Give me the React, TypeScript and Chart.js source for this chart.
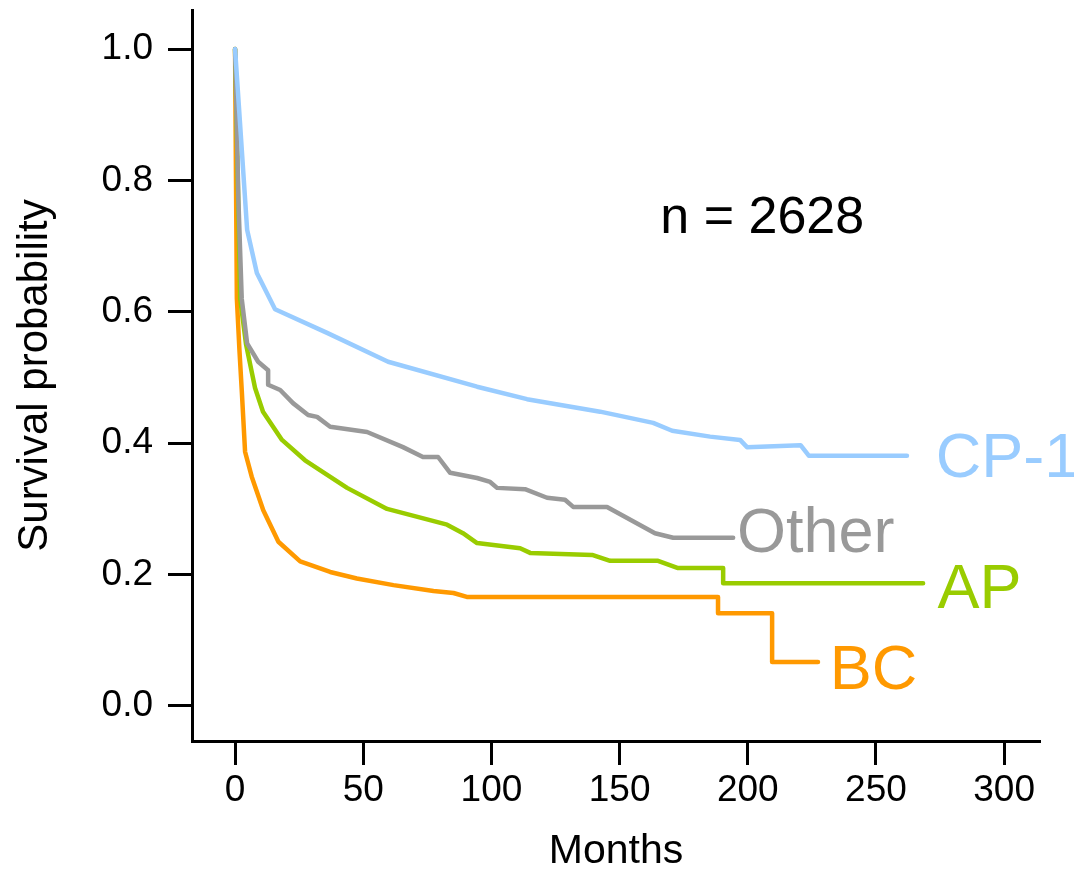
import React, { useEffect, useRef } from 'react';
import { Chart, registerables } from 'chart.js';

Chart.register(...registerables);

// ---- Data ----
const cp1Months = [0, 4.7, 8.5, 15.6, 35.9, 59.7, 94.4, 113.9, 142.4, 163.1, 170.5, 185.3, 197, 199.7, 220.6, 223.8, 262.1];
const cp1Surv = [1.0, 0.725, 0.659, 0.604, 0.568, 0.524, 0.486, 0.467, 0.448, 0.431, 0.419, 0.41, 0.405, 0.394, 0.397, 0.381, 0.381];

const otherMonths = [0, 1.3, 2.6, 4.7, 9, 12.9, 12.9, 17.6, 22.6, 28.5, 32, 37.1, 51.5, 65.5, 73.3, 79.2, 83.9, 94.4, 99.5, 102.2, 113.1, 121.7, 128.7, 131.9, 145.1, 163.8, 170.9, 194.3];
const otherSurv = [1.0, 0.77, 0.62, 0.552, 0.524, 0.511, 0.489, 0.481, 0.461, 0.443, 0.44, 0.425, 0.417, 0.394, 0.379, 0.379, 0.355, 0.347, 0.341, 0.332, 0.33, 0.317, 0.314, 0.303, 0.303, 0.263, 0.256, 0.256];

const apMonths = [0, 2, 4.3, 7.8, 10.9, 18.3, 27.3, 43.7, 59.3, 82.7, 88.9, 94.4, 111.2, 115.1, 139.3, 146.3, 165, 172.8, 190.4, 190.4, 268.4];
const apSurv = [1.0, 0.62, 0.55, 0.484, 0.448, 0.405, 0.374, 0.332, 0.3, 0.276, 0.263, 0.248, 0.24, 0.233, 0.23, 0.221, 0.221, 0.21, 0.21, 0.187, 0.187];

const bcMonths = [0, 0.7, 1.7, 2.6, 3.9, 6.5, 11, 16.9, 25.4, 37.1, 47.5, 61.8, 77.4, 85.2, 90.4, 188.4, 188.4, 209.5, 209.5, 227.4];
const bcSurv = [1.0, 0.62, 0.542, 0.481, 0.387, 0.349, 0.298, 0.25, 0.22, 0.204, 0.194, 0.184, 0.175, 0.172, 0.166, 0.166, 0.141, 0.141, 0.067, 0.067];

const seriesNames = ['CP-1', 'Other', 'AP', 'BC'];
const seriesColors = ['#99CCFF', '#999999', '#99CC00', '#FF9900'];
const seriesMonths = [cp1Months, otherMonths, apMonths, bcMonths];
const seriesSurv = [cp1Surv, otherSurv, apSurv, bcSurv];

// label anchor (left / baseline) in data units
const labelMonths = [273.3, 195.8, 274, 232.0];
const labelSurv = [0.3486, 0.2344, 0.149, 0.0259];

const sampleSizeText = 'n = 2628';
const sampleSizeAt = [165.9, 0.72];

const xTickValues = [0, 50, 100, 150, 200, 250, 300];
const xTickLabels = ['0', '50', '100', '150', '200', '250', '300'];
const yTickValues = [0, 0.2, 0.4, 0.6, 0.8, 1.0];
const yTickLabels = ['0.0', '0.2', '0.4', '0.6', '0.8', '1.0'];

const xTitle = 'Months';
const yTitle = 'Survival probability';

const FONT = '"Liberation Sans", Arial, Helvetica, sans-serif';
const W = 1074;
const H = 870;

const labelsPlugin = {
  id: 'curveLabels',
  afterDatasetsDraw(chart: any) {
    const { ctx, scales } = chart;
    const x = scales.x;
    const y = scales.y;
    ctx.save();
    ctx.textAlign = 'left';
    ctx.textBaseline = 'alphabetic';
    ctx.font = `63px ${FONT}`;
    seriesNames.forEach((name, i) => {
      ctx.fillStyle = seriesColors[i];
      ctx.fillText(name, x.getPixelForValue(labelMonths[i]), y.getPixelForValue(labelSurv[i]));
    });
    ctx.font = `52px ${FONT}`;
    ctx.fillStyle = '#000000';
    ctx.fillText(sampleSizeText, x.getPixelForValue(sampleSizeAt[0]), y.getPixelForValue(sampleSizeAt[1]));
    ctx.restore();
  },
};

export default function App() {
  const ref = useRef<HTMLCanvasElement | null>(null);

  useEffect(() => {
    if (!ref.current) return;
    const datasets = seriesNames.map((name, i) => ({
      label: name,
      data: seriesMonths[i].map((m, j) => ({ x: m, y: seriesSurv[i][j] })),
      borderColor: seriesColors[i],
      backgroundColor: seriesColors[i],
      borderWidth: 4.5,
      pointRadius: 0,
      tension: 0,
      fill: false,
      borderCapStyle: 'round' as const,
      borderJoinStyle: 'round' as const,
    }));

    const axisCommon = {
      border: { display: true, color: '#000000', width: 3 },
      grid: {
        display: true,
        drawOnChartArea: false,
        drawTicks: true,
        tickLength: 24,
        tickWidth: 3,
        tickColor: '#000000',
      },
    };

    const chart = new Chart(ref.current, {
      type: 'line',
      data: { datasets },
      plugins: [labelsPlugin],
      options: {
        animation: false,
        responsive: false,
        devicePixelRatio: 1,
        layout: { padding: { top: 10, right: 34, left: 0, bottom: 0 } },
        plugins: { legend: { display: false }, tooltip: { enabled: false } },
        scales: {
          x: {
            type: 'linear',
            position: 'bottom',
            min: -16.8,
            max: 314,
            ...axisCommon,
            afterBuildTicks: (scale: any) => {
              scale.ticks = xTickValues.map((v) => ({ value: v }));
            },
            afterFit: (scale: any) => {
              scale.height = 129;
              scale.paddingLeft = 0;
              scale.paddingRight = 0;
            },
            ticks: {
              autoSkip: false,
              maxRotation: 0,
              padding: 4,
              color: '#000000',
              font: { family: FONT, size: 37 },
              callback: (_v: any, i: number) => xTickLabels[i],
            },
            title: {
              display: true,
              text: xTitle,
              color: '#000000',
              font: { family: FONT, size: 41, lineHeight: '36px' },
              padding: { top: 0, bottom: 0 },
            },
          },
          y: {
            type: 'linear',
            position: 'left',
            min: -0.0533,
            max: 1.0594,
            ...axisCommon,
            afterBuildTicks: (scale: any) => {
              scale.ticks = yTickValues.map((v) => ({ value: v }));
            },
            afterFit: (scale: any) => {
              scale.width = 192;
              scale.paddingTop = 0;
              scale.paddingBottom = 0;
            },
            ticks: {
              autoSkip: false,
              padding: 15,
              color: '#000000',
              font: { family: FONT, size: 37 },
              callback: (_v: any, i: number) => yTickLabels[i],
            },
            title: {
              display: true,
              text: yTitle,
              color: '#000000',
              font: { family: FONT, size: 42, lineHeight: '36px' },
              padding: { top: 17, bottom: 0 },
            },
          },
        },
      },
    });
    return () => chart.destroy();
  }, []);

  return (
    <div style={{ position: 'absolute', left: 0, top: 0, width: W, height: H, background: '#ffffff' }}>
      <canvas ref={ref} width={W} height={H} style={{ display: 'block', width: W, height: H }} />
    </div>
  );
}
